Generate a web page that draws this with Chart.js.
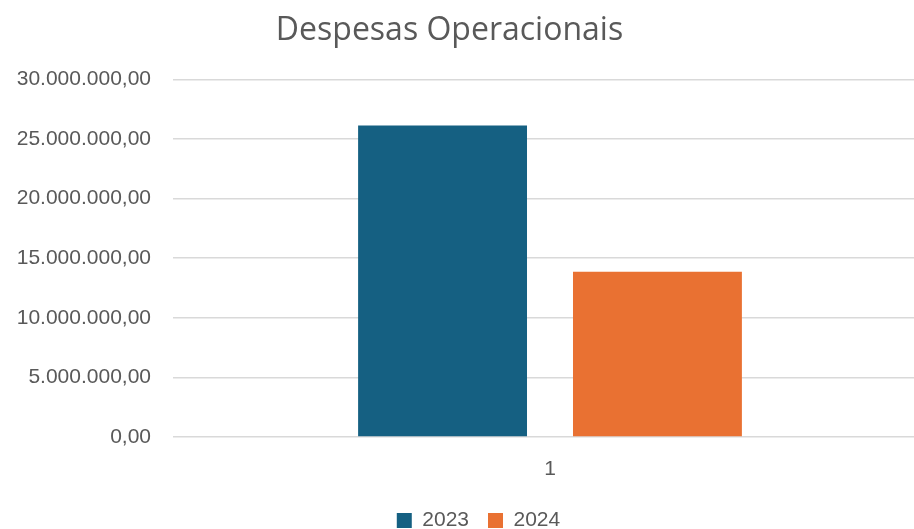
<!DOCTYPE html>
<html>
<head>
<meta charset="utf-8">
<script src="https://cdn.jsdelivr.net/npm/chart.js@4"></script>
<style>
html,body{margin:0;padding:0;background:#fff;overflow:hidden;}
#wrap{width:927px;height:529px;position:relative;}
</style>
</head>
<body>
<div id="wrap"><canvas id="c"></canvas></div>
<script>
const categories = ["1"];
const series2023 = [26130000];
const series2024 = [13870000];
const seriesLabels = ["2023", "2024"];
const yTicks = [0, 5000000, 10000000, 15000000, 20000000, 25000000, 30000000];

const fmt = v => v.toLocaleString('pt-BR', {minimumFractionDigits: 2, maximumFractionDigits: 2});

const shiftBlocks = {
  id: 'shiftBlocks',
  afterLayout(chart) {
    const t = chart.titleBlock;
    if (t) { t.left -= 19; t.right -= 19; }
    const l = chart.legend;
    if (l) { l.top += 12; l.bottom += 12; l.left += 10; l.right += 10; }
  }
};

const FONT = 'Liberation Sans';
const FS = 21;

new Chart(document.getElementById('c'), {
  type: 'bar',
  data: {
    labels: categories,
    datasets: [
      {label: seriesLabels[0], data: series2023, backgroundColor: '#156082', borderWidth: 0},
      {label: seriesLabels[1], data: series2024, backgroundColor: '#e97132', borderWidth: 0}
    ]
  },
  plugins: [shiftBlocks],
  options: {
    responsive: true,
    maintainAspectRatio: false,
    animation: false,
    devicePixelRatio: 1,
    categoryPercentage: 0.57,
    barPercentage: 0.786,
    layout: {padding: {left: 10, right: 0, top: 3, bottom: 0}},
    plugins: {
      title: {
        display: true,
        text: 'Despesas Operacionais',
        color: '#595959',
        font: {family: 'Open Sans', size: 32, weight: '500'},
        padding: {top: 9, bottom: 29}
      },
      legend: {
        position: 'bottom',
        labels: {
          color: '#595959',
          font: {family: FONT, size: FS, lineHeight: 1},
          boxWidth: 15, boxHeight: 15,
          padding: 19
        }
      },
      tooltip: {enabled: false}
    },
    scales: {
      x: {
        grid: {display: false},
        border: {display: false},
        ticks: {color: '#595959', font: {family: FONT, size: FS}, padding: 12},
        afterFit: s => { s.height = 42; }
      },
      y: {
        min: 0, max: 30000000,
        afterBuildTicks: axis => { axis.ticks = yTicks.map(v => ({value: v})); },
        afterFit: s => { s.width = 163; },
        grid: {color: '#d9d9d9', lineWidth: 1.5, drawTicks: false},
        border: {display: false},
        ticks: {color: '#595959', font: {family: FONT, size: FS}, padding: 22, callback: v => fmt(v)}
      }
    }
  }
});
</script>
</body>
</html>
